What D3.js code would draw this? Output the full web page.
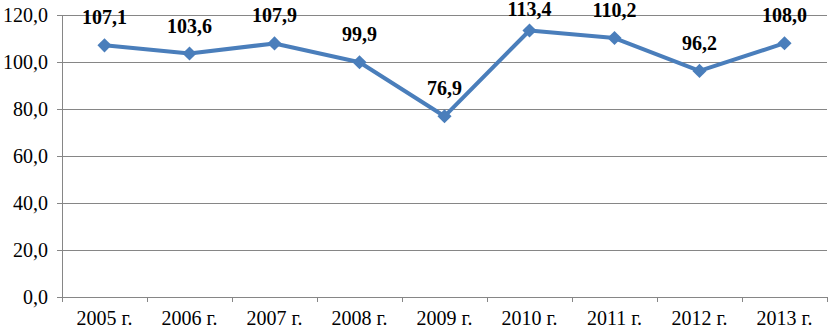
<!DOCTYPE html>
<html><head><meta charset="utf-8">
<script src="https://cdn.jsdelivr.net/npm/d3@7"></script>
<style>body{margin:0;background:#fff}</style>
</head><body>
<svg id="c" width="828" height="329"></svg>
<script>
const categories = ["2005 г.","2006 г.","2007 г.","2008 г.","2009 г.","2010 г.","2011 г.","2012 г.","2013 г."];
const values = [107.1,103.6,107.9,99.9,76.9,113.4,110.2,96.2,108.0];
const yTicks = [0,20,40,60,80,100,120];

const svg = d3.select("#c");
const m = {l:62, r:1, t:15, b:32};
const W = 828, H = 329;
const x = d3.scaleBand().domain(categories).range([m.l, W - m.r]);
const y = d3.scaleLinear().domain([0,120]).range([H - m.b, m.t]);
const fmt = v => v.toFixed(1).replace(".", ",");
const grid = "#868686";
const FONT = "Liberation Serif";

const yAx = svg.append("g").attr("transform", `translate(${m.l},0)`)
  .call(d3.axisLeft(y).tickValues(yTicks).tickFormat(fmt).tickSize(5).tickPadding(9));
yAx.select(".domain").attr("stroke", grid);
yAx.selectAll(".tick line").attr("stroke", grid);
yAx.selectAll(".tick text").attr("dy", "0.33em")
  .attr("font-family", FONT).attr("font-size", 20).attr("fill", "#000");
svg.append("g").selectAll("line").data(yTicks.filter(d => d > 0)).join("line")
  .attr("x1", m.l).attr("x2", W - m.r).attr("y1", d => y(d)).attr("y2", d => y(d))
  .attr("stroke", grid).attr("stroke-width", 1).attr("shape-rendering", "crispEdges");

const xAx = svg.append("g").attr("transform", `translate(0,${y(0)})`)
  .call(d3.axisBottom(x).tickSize(0).tickPadding(14));
xAx.select(".domain").attr("stroke", grid);
xAx.selectAll(".tick text").attr("font-family", FONT).attr("font-size", 20).attr("fill", "#000");
svg.append("g").selectAll("line").data(d3.range(categories.length + 1)).join("line")
  .attr("x1", i => m.l + i*x.bandwidth()).attr("x2", i => m.l + i*x.bandwidth())
  .attr("y1", y(0)).attr("y2", y(0) + 5).attr("stroke", grid).attr("shape-rendering", "crispEdges");

const cx = d => x(d) + x.bandwidth()/2;
const line = d3.line().x((d,i) => cx(categories[i])).y(d => y(d));
svg.append("path").datum(values).attr("d", line).attr("fill", "none")
  .attr("stroke", "#4a7ebb").attr("stroke-width", 4).attr("stroke-linejoin", "round");

svg.append("g").selectAll("path").data(values).join("path")
  .attr("d", d3.symbol().type(d3.symbolSquare).size(100))
  .attr("transform", (d,i) => `translate(${cx(categories[i])},${y(d)}) rotate(45)`)
  .attr("fill", "#4a7ebb");

svg.append("g").selectAll("text").data(values).join("text")
  .attr("x", (d,i) => cx(categories[i]))
  .attr("y", d => Math.max(16, y(d) - 21))
  .attr("text-anchor", "middle")
  .attr("font-family", FONT).attr("font-size", 20).attr("font-weight", "bold").attr("fill", "#000")
  .text(fmt);
</script>
</body></html>
